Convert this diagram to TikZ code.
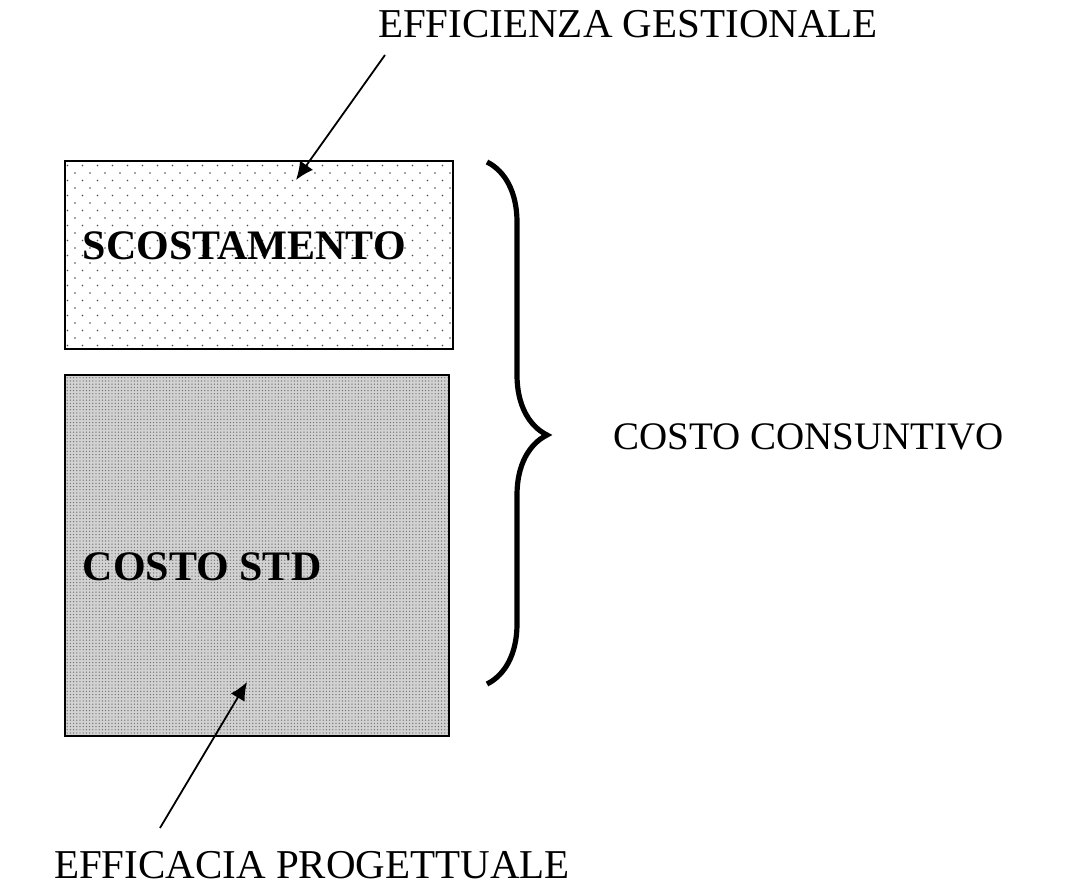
\documentclass[tikz,border=0pt]{standalone}
\usepackage{fontspec}
\setmainfont{Liberation Serif}
\usepackage{tikz}
\usetikzlibrary{arrows.meta,patterns.meta,decorations.pathreplacing}

\begin{document}
\begin{tikzpicture}[x=0.5pt,y=-0.5pt,>={Latex[length=9pt,width=8pt]},line width=0.9pt,
	label/.style={font=\fontsize{20.5}{22}\selectfont},
	boxtext/.style={font=\fontsize{21}{23}\selectfont\bfseries,anchor=west,inner sep=0pt},
	sparseBox/.style={draw,line width=1pt,inner sep=0pt,
		preaction={pattern={Dots[distance=7.5pt,radius=0.45pt]},pattern color=black!70},
		pattern={Dots[distance=7.5pt,radius=0.45pt,xshift=3.75pt,yshift=3.75pt]},pattern color=black!70},
	denseBox/.style={draw,line width=1pt,inner sep=0pt,preaction={fill=gray!35},
		pattern={Dots[distance=1.6pt,radius=0.35pt]},pattern color=black!55}]

\useasboundingbox (0,0) rectangle (1077,893);

\node[sparseBox,minimum width=194pt,minimum height=94pt]	(Scost)	at (259,255)	{};
\node[denseBox,minimum width=192pt,minimum height=180.5pt]	(Std)	at (257,555.5)	{};

\node[boxtext]	(ScostText)	at (82,246)	{SCOSTAMENTO};
\node[boxtext]	(StdText)	at (82,567)	{COSTO STD};

\node[label]	(Gest)	at (628,24)	{EFFICIENZA GESTIONALE};
\node[label]	(Prog)	at (312,865)	{EFFICACIA PROGETTUALE};
\node[label,anchor=west,font=\fontsize{19.5}{21}\selectfont]	(Cons)	at (606,437)	{COSTO CONSUNTIVO};

\coordinate (GestTail)	at (385,55);
\coordinate (GestHead)	at (296,180);
\coordinate (ProgTail)	at (160,828);
\coordinate (ProgHead)	at (247,682);

\draw[->] (GestTail) -- (GestHead);
\draw[->] (ProgTail) -- (ProgHead);

% graffa
\draw[line width=2.6pt,decorate,decoration={brace,amplitude=30pt,aspect=0.523}]
	(487,162) -- (487,684);
\end{tikzpicture}
\end{document}
